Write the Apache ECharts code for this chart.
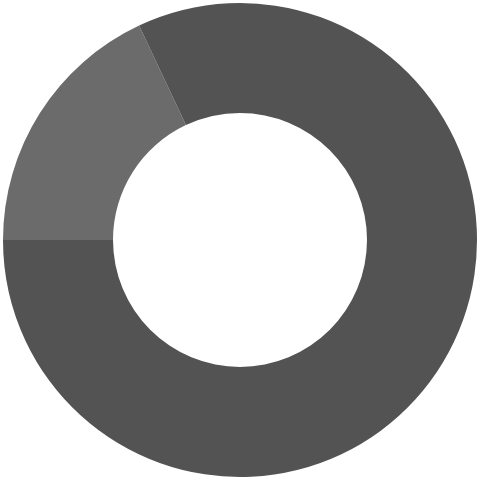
<!DOCTYPE html>
<html><head><meta charset="utf-8">
<script src="https://cdn.jsdelivr.net/npm/echarts@6/dist/echarts.min.js"></script>
<style>html,body{margin:0;padding:0;background:#fff}#c{width:480px;height:480px}</style>
</head><body><div id="c"></div>
<script>
var categories = ['A', 'B'];
var values = [18, 82];
var colors = ['#6b6b6b', '#535353'];
var chart = echarts.init(document.getElementById('c'), null, {renderer: 'canvas'});
chart.setOption({
  animation: false,
  series: [{
    type: 'pie',
    center: [240, 240],
    radius: [127, 237],
    startAngle: 180,
    clockwise: true,
    label: {show: false},
    labelLine: {show: false},
    itemStyle: {borderWidth: 0},
    emphasis: {disabled: true},
    data: categories.map(function (c, i) {
      return {name: c, value: values[i], itemStyle: {color: colors[i]}};
    })
  }]
});
</script></body></html>
